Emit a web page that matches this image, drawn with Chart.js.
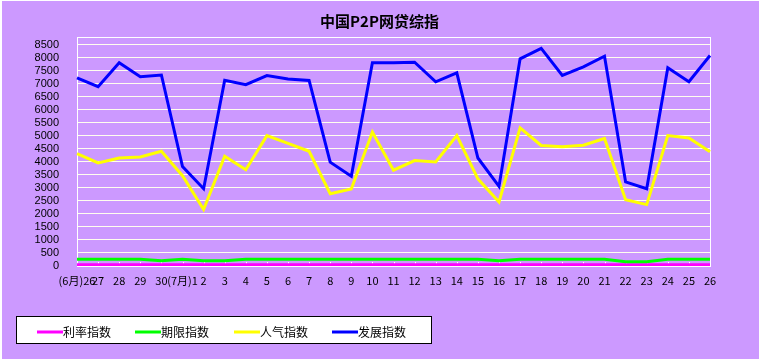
<!DOCTYPE html>
<html>
<head>
<meta charset="utf-8">
<title>中国P2P网贷综指</title>
<script src="https://cdn.jsdelivr.net/npm/chart.js@4.4.3/dist/chart.umd.min.js"></script>
<style>
  html, body { margin: 0; padding: 0; background: #fff; }
  canvas { display: block; }
</style>
</head>
<body>
<canvas id="p2pChart" width="759" height="359"></canvas>
<script>
// dates, 6/26 .. 7/26
const days = ['(6月)26', '27', '28', '29', '30', '(7月)1', '2', '3', '4', '5', '6', '7', '8', '9', '10',
    '11', '12', '13', '14', '15', '16', '17', '18', '19', '20', '21', '22', '23', '24', '25', '26'];

const rateIndex = [50, 50, 50, 50, 50, 50, 50, 50, 50, 50, 50, 50, 50, 50, 50, 50,
    50, 50, 50, 50, 50, 50, 50, 50, 50, 50, 50, 50, 50, 50, 50];
const termIndex = [260, 260, 260, 260, 200, 260, 200, 200, 260, 260, 260, 260, 260, 260, 260, 260,
    260, 260, 260, 260, 200, 260, 260, 260, 260, 260, 160, 160, 260, 260, 260];
const popularityIndex = [4320, 3960, 4150, 4190, 4410, 3470, 2170, 4220, 3700, 5010, 4710, 4410, 2780, 2960, 5150, 3680,
    4050, 4000, 5010, 3350, 2460, 5310, 4630, 4580, 4640, 4900, 2550, 2360, 5010, 4920, 4390];
const growthIndex = [7230, 6890, 7810, 7270, 7340, 3820, 2970, 7140, 6970, 7320, 7190, 7130, 3990, 3450, 7810, 7810,
    7830, 7080, 7420, 4150, 3060, 7960, 8360, 7320, 7650, 8060, 3230, 2970, 7620, 7080, 8090];

// y tick labels (top of plot sits a bit above the last one)
const yTicks = [0, 500, 1000, 1500, 2000, 2500, 3000, 3500, 4000, 4500, 5000, 5500, 6000, 6500, 7000, 7500, 8000, 8500];
const yMax = 8800;

const bgColor = '#CC99FF';
const gridColor = '#FFFFEE';

const seriesNames = ['利率指数', '期限指数', '人气指数', '发展指数'];
const seriesColors = ['#FF00FF', '#00FF00', '#FFFF00', '#0000FF'];

function makeLine(label, data, color, order) {
    return {
        label: label,
        data: data,
        borderColor: color,
        backgroundColor: color,
        borderWidth: 3,
        pointRadius: 0,
        tension: 0,
        fill: false,
        order: order
    };
}

// lavender page with thin white edge on top/left
const backdrop = {
    id: 'backdrop',
    beforeDraw(chart) {
        const c = chart.ctx;
        c.save();
        c.fillStyle = '#FFFFFF';
        c.fillRect(0, 0, chart.width, chart.height);
        c.fillStyle = bgColor;
        c.fillRect(2, 1, chart.width - 2, chart.height - 1);
        c.restore();
    }
};

// white frame round the plot + small tick marks above x axis
const plotFrame = {
    id: 'plotFrame',
    beforeDatasetsDraw(chart) {
        const { ctx: c, chartArea: a } = chart;
        const xs = chart.scales.x;
        c.save();
        c.strokeStyle = '#FFFFFF';
        c.lineWidth = 1;
        c.strokeRect(Math.round(a.left) + 0.5, Math.round(a.top) + 0.5,
            Math.round(a.right - a.left), Math.round(a.bottom - a.top));
        c.fillStyle = '#FFFFFF';
        xs.ticks.forEach((t, i) => {
            const px = Math.round(xs.getPixelForTick(i));
            c.fillRect(px, a.bottom - 4, 1, 2);
        });
        c.restore();
    }
};

// boxed legend under the plot
const boxLegend = {
    id: 'boxLegend',
    afterDraw(chart) {
        const c = chart.ctx;
        const boxX = 16.5, boxY = 316.5, boxW = 415, boxH = 27;
        const lineStarts = [37, 135, 234, 332];
        const midY = 332;
        c.save();
        c.fillStyle = '#FFFFFF';
        c.fillRect(boxX, boxY, boxW, boxH);
        c.strokeStyle = '#000000';
        c.lineWidth = 1;
        c.strokeRect(boxX, boxY, boxW, boxH);
        c.font = '12px "Noto Sans CJK SC"';
        c.textBaseline = 'middle';
        c.textAlign = 'left';
        chart.data.datasets.forEach((ds, i) => {
            const x0 = lineStarts[i];
            c.strokeStyle = ds.borderColor;
            c.lineWidth = 3;
            c.beginPath();
            c.moveTo(x0, midY);
            c.lineTo(x0 + 26, midY);
            c.stroke();
            c.fillStyle = '#000000';
            c.fillText(ds.label, x0 + 26, midY);
        });
        c.restore();
    }
};

const chart = new Chart(document.getElementById('p2pChart'), {
    type: 'line',
    data: {
        labels: days,
        datasets: [
            makeLine(seriesNames[0], rateIndex, seriesColors[0], 3),
            makeLine(seriesNames[1], termIndex, seriesColors[1], 2),
            makeLine(seriesNames[2], popularityIndex, seriesColors[2], 1),
            makeLine(seriesNames[3], growthIndex, seriesColors[3], 0)
        ]
    },
    options: {
        responsive: false,
        animation: false,
        layout: { padding: { top: 0, left: 0, right: 0, bottom: 67 } },
        plugins: {
            legend: { display: false },
            tooltip: { enabled: false },
            title: {
                display: true,
                text: '中国P2P网贷综指',
                color: '#000000',
                font: { family: '"Noto Sans CJK SC"', size: 15, weight: 'bold', lineHeight: 1.2 },
                padding: { top: 12, bottom: 7 }
            }
        },
        scales: {
            x: {
                offset: false,
                grid: { display: false, drawTicks: false },
                border: { display: true, color: '#FFFFFF', width: 1 },
                ticks: {
                    autoSkip: false,
                    maxRotation: 0,
                    minRotation: 0,
                    padding: 8,
                    color: '#000000',
                    font: { family: '"Noto Sans CJK SC"', size: 11 }
                },
                afterFit(scale) { scale.height = 26; }
            },
            y: {
                min: 0,
                max: yMax,
                afterBuildTicks(scale) {
                    scale.ticks = yTicks.map(v => ({ value: v }));
                },
                grid: {
                    drawTicks: false,
                    color: gridColor
                },
                border: { display: true, color: '#FFFFFF', width: 1 },
                ticks: {
                    autoSkip: false,
                    padding: 18,
                    color: '#000000',
                    font: { family: '"Liberation Sans"', size: 11 },
                    callback: (v) => String(v)
                },
                afterFit(scale) { scale.width = 77; }
            },
            // empty spacer on the right so the title stays centred on the page
            yRight: {
                position: 'right',
                min: 0,
                max: yMax,
                grid: { display: false, drawTicks: false },
                border: { display: false },
                ticks: { display: false },
                afterFit(scale) { scale.width = 49; }
            }
        }
    },
    plugins: [backdrop, plotFrame, boxLegend]
});
</script>
</body>
</html>
